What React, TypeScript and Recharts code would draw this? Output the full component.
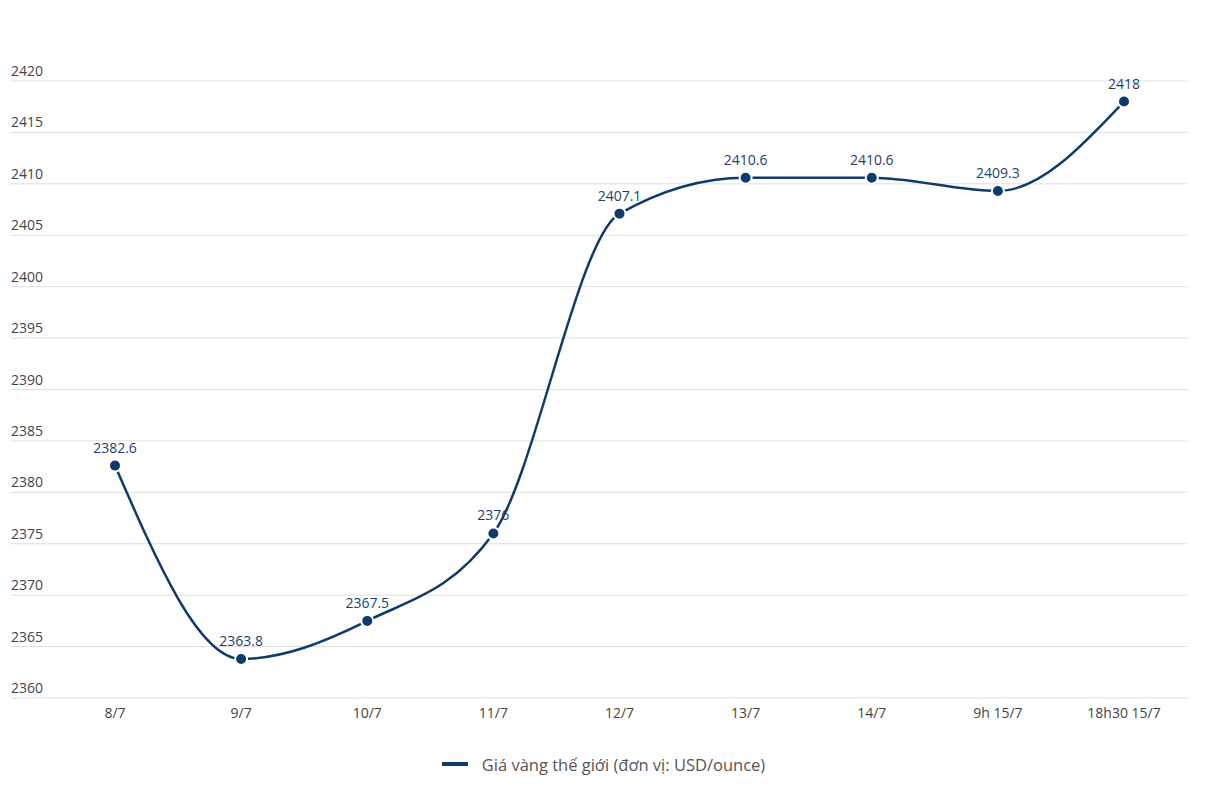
import { LineChart, Line, XAxis, YAxis, CartesianGrid, LabelList, Legend } from "recharts";

const days = ["8/7", "9/7", "10/7", "11/7", "12/7", "13/7", "14/7", "9h 15/7", "18h30 15/7"];
const prices = [2382.6, 2363.8, 2367.5, 2376, 2407.1, 2410.6, 2410.6, 2409.3, 2418];
const yTicks = [2360, 2365, 2370, 2375, 2380, 2385, 2390, 2395, 2400, 2405, 2410, 2415, 2420];
const seriesName = "Giá vàng thế giới (đơn vị: USD/ounce)";

const data = days.map((d, i) => ({ day: d, price: prices[i] }));

const NAVY = "#0f3a6e";
const FONT = "'Open Sans', 'Noto Sans', sans-serif";

// y labels sit above their gridline, flush left
function YTick(props: any) {
  const { y, payload } = props;
  return (
    <text x={11} y={y - 5} textAnchor="start" fill="#444" fontSize={14} fontFamily={FONT}>
      {payload.value}
    </text>
  );
}

function LegendBox() {
  return (
    <div
      style={{
        display: "flex",
        justifyContent: "center",
        alignItems: "center",
        height: 24,
        fontFamily: FONT,
        fontSize: 16.5,
        color: "#555",
      }}
    >
      <span style={{ display: "inline-block", width: 26, height: 4, background: NAVY, marginRight: 14 }} />
      <span>{seriesName}</span>
    </div>
  );
}

export default function App() {
  return (
    <div style={{ position: "absolute", left: 0, top: 0, width: 1207, height: 802, background: "#fff" }}>
      <LineChart width={1207} height={802} data={data} margin={{ top: 81, right: 20, left: 11, bottom: 50 }}>
        <CartesianGrid vertical={false} stroke="#dedede" strokeWidth={1} />
        <XAxis
          dataKey="day"
          axisLine={false}
          tickLine={false}
          padding={{ left: 104, right: 63 }}
          tick={{ fill: "#444", fontSize: 14, fontFamily: FONT }}
          tickMargin={4}
          interval={0}
        />
        <YAxis
          domain={[2360, 2420]}
          ticks={yTicks}
          mirror
          width={60}
          axisLine={false}
          tickLine={false}
          tick={<YTick />}
          interval={0}
        />
        <Legend
          verticalAlign="bottom"
          content={() => <LegendBox />}
          wrapperStyle={{ top: 752, left: 0, width: 1207, bottom: "auto" }}
        />
        <Line
          type="monotone"
          dataKey="price"
          name={seriesName}
          stroke={NAVY}
          strokeWidth={2.5}
          dot={{ r: 6, fill: NAVY, stroke: "#fff", strokeWidth: 2 }}
          activeDot={false}
          isAnimationActive={false}
        >
          <LabelList dataKey="price" position="top" offset={13} fill="#1d3f6c" fontSize={14} fontFamily={FONT} />
        </Line>
      </LineChart>
    </div>
  );
}
